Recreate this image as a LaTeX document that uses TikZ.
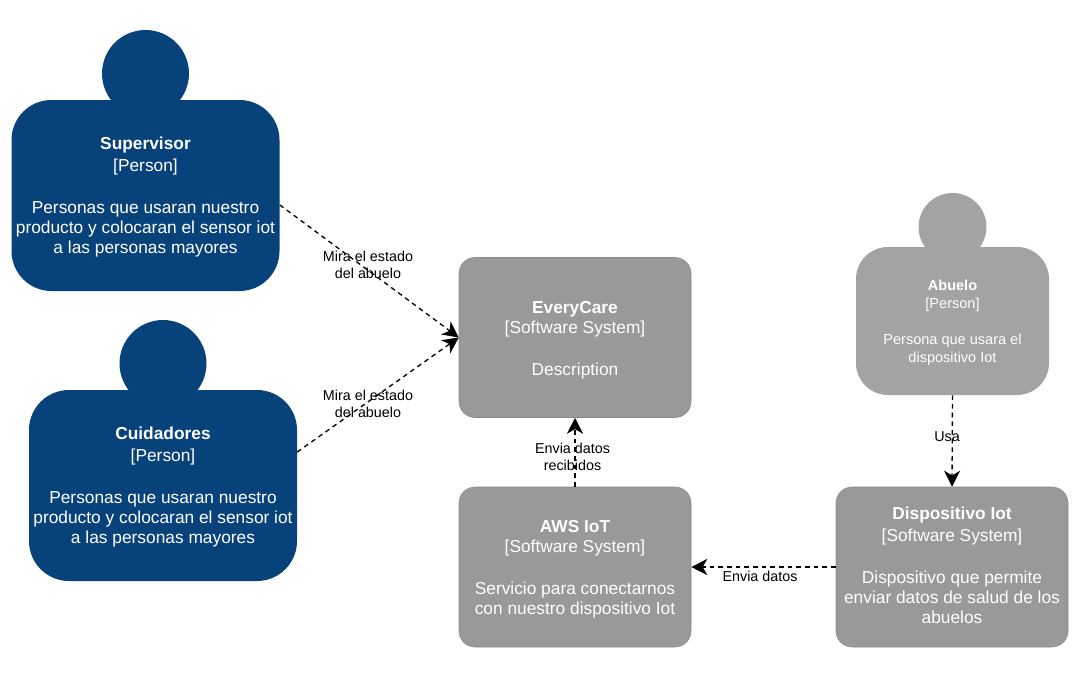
\documentclass[tikz,border=0pt]{standalone}
\usepackage{fontspec}
\setmainfont{Liberation Sans}
\usepackage{xcolor}
\usetikzlibrary{arrows.meta,positioning}
\definecolor{personblue}{HTML}{08427B}
\definecolor{usergray}{HTML}{A3A3A3}
\definecolor{systemgray}{HTML}{999999}
\definecolor{systemedge}{HTML}{8A8A8A}
\tikzset{
  person/.style={
    shape = rectangle,
    fill = personblue,
    text = white,
    align = center,
    inner sep = 0,
    rounded corners = 30pt,
    minimum width = 201pt,
    minimum height = 143.25pt,
    font = \fontsize{13}{15}\selectfont
  },
  personhead/.style={
    shape = circle,
    fill = personblue,
    inner sep = 0,
    minimum size = 65.25pt
  },
  grayperson/.style={
    person,
    fill = usergray,
    rounded corners = 24pt,
    minimum width = 144.75pt,
    minimum height = 111pt,
    font = \fontsize{10.9}{13.5}\selectfont
  },
  grayhead/.style={
    personhead,
    fill = usergray,
    minimum size = 51pt
  },
  softsystem/.style={
    shape = rectangle,
    draw = systemedge,
    fill = systemgray,
    text = white,
    align = center,
    inner sep = 0,
    rounded corners = 12pt,
    minimum width = 174pt,
    minimum height = 120pt,
    font = \fontsize{13}{15}\selectfont
  },
  flow/.style={
    dash pattern = on 3.5pt off 3pt,
    line width = 1pt,
    -{Stealth[length=12pt,width=12pt,inset=3.5pt]}
  },
  flowlabel/.style={
    align = center,
    inner sep = 0,
    font = \fontsize{10.75}{12.75}\selectfont
  }
}
\begin{document}
\begin{tikzpicture}[x=0.75pt,y=-0.75pt]
        \useasboundingbox (0,0) rectangle (1089,678);
        % persons
        \node[personhead] (supervisorhead) at (145.5,73.5) {};
        \node[person] (supervisor) at (145.5,195.5) {\rule{0pt}{11.5pt}\textbf{Supervisor}\\[1.5pt]{[Person]}\\[16.5pt]Personas que usaran nuestro\\producto y colocaran el sensor iot\\a las personas mayores};
        \node[personhead] (cuidadoreshead) at (163,363.5) {};
        \node[person] (cuidadores) at (163,485.5) {\rule{0pt}{11.5pt}\textbf{Cuidadores}\\[1.5pt]{[Person]}\\[16.5pt]Personas que usaran nuestro\\producto y colocaran el sensor iot\\a las personas mayores};
        \node[grayhead] (abuelohead) at (952.5,227) {};
        \node[grayperson] (abuelo) at (952.5,321) {\rule{0pt}{11pt}\textbf{Abuelo}\\{[Person]}\\[13.5pt]Persona que usara el\\dispositivo Iot};
        % systems
        \node[softsystem] (everycare) at (575,337.5) {\rule{0pt}{12.5pt}\textbf{EveryCare}\\{[Software System]}\\[16.5pt]Description};
        \node[softsystem] (aws) at (575,567) {\rule{0pt}{12.5pt}\textbf{AWS IoT}\\{[Software System]}\\[16.5pt]Servicio para conectarnos\\con nuestro dispositivo Iot};
        \node[softsystem] (dispositivo) at (952,567) {\textbf{Dispositivo Iot}\\[1.5pt]{[Software System]}\\[16.5pt]Dispositivo que permite\\enviar datos de salud de los\\abuelos\rule[-3.4pt]{0pt}{1pt}};
        % connectors
        \draw[flow] (supervisor.-4.5) -- (everycare.west);
        \draw[flow] (cuidadores.14.4) -- (everycare.west);
        \draw[flow] (aws.north) -- (everycare.south);
        \draw[flow] (abuelo.south) -- (dispositivo.north);
        \draw[flow] (dispositivo.west) -- (aws.east);
        \node[flowlabel] (miralabela) at (368,264.5) {Mira el estado\\del abuelo};
        \node[flowlabel] (miralabelb) at (368,403.5) {Mira el estado\\del abuelo};
        \node[flowlabel] (recibidoslabel) at (572.5,457) {Envia datos\\recibidos};
        \node[flowlabel] (usalabel) at (947,437) {Usa};
        \node[flowlabel] (envialabel) at (760,576) {Envia datos};
    \end{tikzpicture}
\end{document}
